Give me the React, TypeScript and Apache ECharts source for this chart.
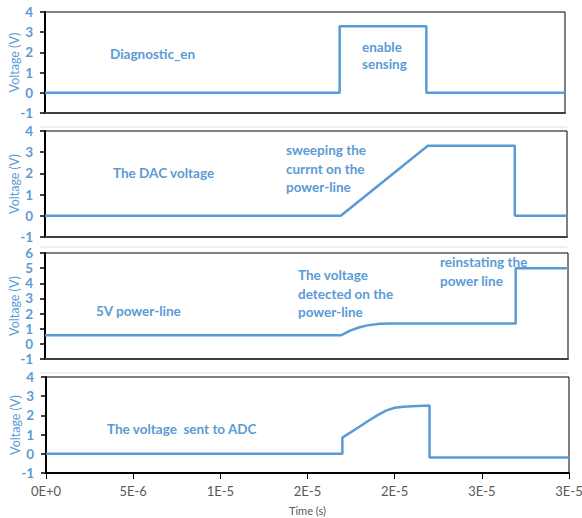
import React, { useEffect, useRef } from "react";
import * as echarts from "echarts";

// x values in microseconds; tick labels as shown (Excel "0E+0" format)
const xTickLabels = ["0E+0", "5E-6", "1E-5", "2E-5", "2E-5", "3E-5", "3E-5"];

const diagT = [0, 17, 17, 22, 22, 30];
const diagV = [0, 0, 3.3, 3.3, 0, 0];

const dacT = [0, 17, 22, 27, 27, 30];
const dacV = [0, 0, 3.3, 3.3, 0, 0];

const pwrT = [0, 17, 17.5, 18, 18.5, 19.2, 20, 27, 27, 30];
const pwrV = [0.57, 0.57, 0.87, 1.08, 1.22, 1.33, 1.35, 1.35, 5, 5];

const adcT = [0, 17, 17, 18, 18.5, 19, 19.5, 20, 20.5, 21, 22, 22, 30];
const adcV = [0, 0, 0.84, 1.42, 1.72, 2.0, 2.25, 2.4, 2.45, 2.48, 2.52, -0.19, -0.19];

const yMaxes = [4, 4, 6, 4];

const FONT = "Lato";
const BLUE = "#5b9bd5";

const grids = [
  { left: 45, top: 12, width: 520, height: 101 },
  { left: 45, top: 131, width: 522, height: 106 },
  { left: 45, top: 253, width: 523, height: 106 },
  { left: 46, top: 377, width: 523, height: 96 },
];

const zip = (t: number[], v: number[]) => t.map((x, i) => [x, v[i]]);

export default function App() {
  const ref = useRef<HTMLDivElement>(null);
  useEffect(() => {
    if (!ref.current) return;
    const chart = echarts.init(ref.current, undefined, { renderer: "svg" });
    const seriesData = [zip(diagT, diagV), zip(dacT, dacV), zip(pwrT, pwrV), zip(adcT, adcV)];

    const xAxes = grids.map((_, i) => {
      const last = i === 3;
      return {
        gridIndex: i,
        type: "value",
        min: 0,
        max: 30,
        interval: 5,
        axisLine: { show: true, onZero: false, lineStyle: { color: last ? "#000" : "#404040", width: 2 } },
        axisTick: { show: last, length: 6, lineStyle: { color: "#000", width: 1 } },
        axisLabel: {
          show: last,
          formatter: (v: number) => xTickLabels[Math.round(v / 5)],
          color: "#595959",
          fontSize: 13,
          fontFamily: FONT,
          margin: 11,
        },
        splitLine: { show: false },
        name: last ? "Time (s)" : "",
        nameLocation: "middle",
        nameGap: 32,
        nameMoveOverlap: false,
        nameTextStyle: { color: "#595959", fontSize: 11, fontFamily: FONT },
      };
    });

    const yAxes = grids.map((_, i) => ({
      gridIndex: i,
      type: "value",
      min: -1,
      max: yMaxes[i],
      interval: 1,
      name: "Voltage (V)",
      nameLocation: "middle",
      nameGap: 24,
      nameMoveOverlap: false,
      nameTextStyle: { color: BLUE, fontSize: 12.5, fontFamily: FONT },
      axisLine: { show: true, lineStyle: { color: "#000", width: 2 } },
      axisTick: { show: true, length: 5, lineStyle: { color: "#000", width: 1.5 } },
      axisLabel: { color: BLUE, fontWeight: "bold", fontSize: 13.5, fontFamily: FONT, margin: 12 },
      splitLine: { show: false },
    }));

    const F = `bold 13.5px ${FONT}`;
    const txt = (text: string, left: number, top: number, lh = 18.5) => ({
      type: "text",
      left,
      top,
      style: { text, fill: BLUE, font: F, lineHeight: lh },
    });
    const sep = (y: number) => ({
      type: "line",
      shape: { x1: 40, y1: y, x2: 567, y2: y },
      style: { stroke: "#e2e2e2", lineWidth: 1 },
    });

    chart.setOption({
      animation: false,
      backgroundColor: "#fff",
      textStyle: { fontFamily: FONT },
      grid: grids.map((g) => ({
        ...g,
        outerBoundsMode: "none",
        containLabel: false,
        show: true,
        borderColor: "#000",
        borderWidth: 1,
        backgroundColor: "#fff",
      })),
      xAxis: xAxes,
      yAxis: yAxes,
      series: seriesData.map((d, i) => ({
        type: "line",
        xAxisIndex: i,
        yAxisIndex: i,
        data: d,
        showSymbol: false,
        lineStyle: { color: BLUE, width: 2.5 },
      })),
      graphic: [
        sep(127),
        sep(247),
        sep(373),
        txt("Diagnostic_en", 110, 45),
        txt("enable\nsensing", 362, 38, 17),
        txt("The DAC voltage", 113, 164),
        txt("sweeping the\ncurrnt on the\npower-line", 286, 141),
        txt("5V power-line", 96, 302),
        txt("The voltage\ndetected on the\npower-line", 298, 266),
        txt("reinstating the\npower line", 440, 253),
        txt("The voltage  sent to ADC", 107, 420),
      ],
    });
    return () => chart.dispose();
  }, []);
  return <div ref={ref} style={{ position: "fixed", left: 0, top: 0, width: 582, height: 518 }} />;
}
